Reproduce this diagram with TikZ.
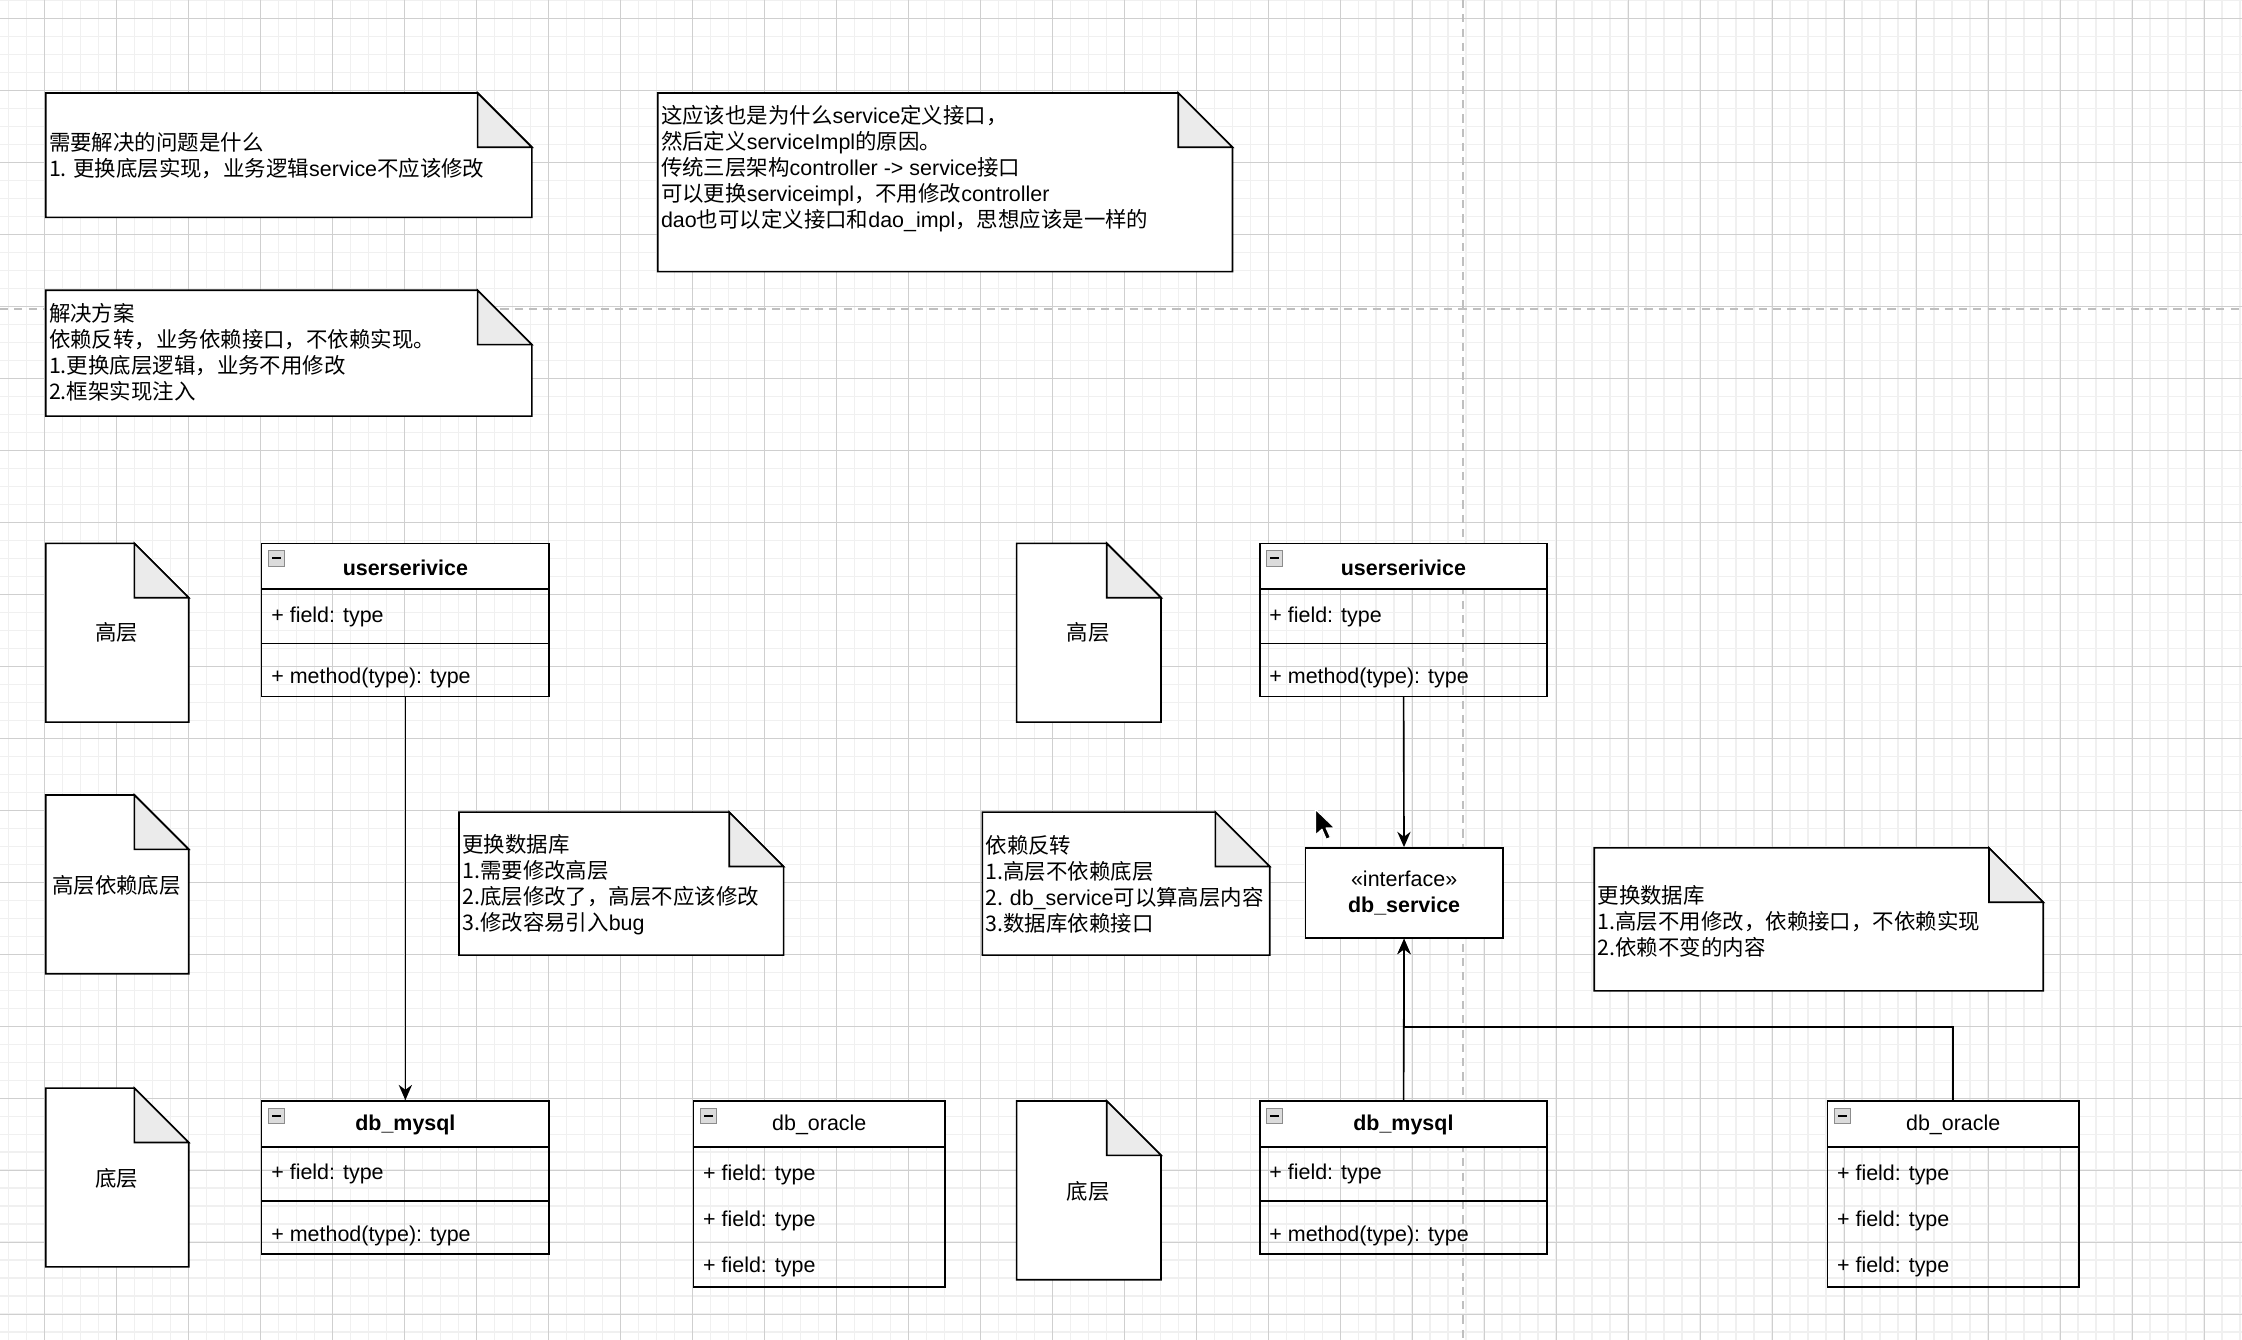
\documentclass[tikz,border=0pt]{standalone}
\usepackage{fontspec}
\setmainfont{Liberation Sans}
\newfontfamily\cjk{Noto Sans CJK SC}
\usetikzlibrary{arrows.meta,positioning,fit,calc}

\newcommand{\en}[1]{{\rmfamily #1}}
% rectangle with a folded top-right corner (notes and documents)
\newcommand{\foldbox}[4]{%
  \filldraw[outline,fill=white] (#1,#2) -- (#3-38,#2) -- (#3,#2+38) -- (#3,#4) -- (#1,#4) -- cycle;
  \filldraw[outline,fill=black!8] (#3-38,#2) -- (#3-38,#2+38) -- (#3,#2+38) -- cycle;}
% collapse icon in a class header
\newcommand{\minusicon}[2]{%
  \filldraw[fill=black!14,draw=black!45,line width=0.5pt] (#1+5,#2+5) rectangle ++(11,11);
  \draw[line width=1.1pt] (#1+7.5,#2+10.5) -- ++(6,0);}
% class with one field and one method
\newcommand{\svcclass}[4]{%
  \fill[white] (#2,#3) rectangle ++(201,32);
  \node[umlbox,fit={(#2,#3)(#2+201,#3+107)}] (#1) {};
  \draw[outline] (#2,#3+32) -- ++(201,0);
  \draw[outline] (#2,#3+70) -- ++(201,0);
  \node[umlhead] (#1t) at (#2+100.5,#3+16) {#4};
  \node[umlrow] (#1f) at (#2+6.5,#3+49) {+ field: type};
  \node[umlrow] (#1m) at (#2+6.5,#3+92) {+ method(type): type};
  \minusicon{#2}{#3}}
% class with three fields
\newcommand{\oraclass}[3]{%
  \fill[white] (#2,#3) rectangle ++(176,32);
  \node[umlbox,fit={(#2,#3)(#2+176,#3+130)}] (#1) {};
  \draw[outline] (#2,#3+32) -- ++(176,0);
  \node[umlhead] (#1t) at (#2+88,#3+16) {db\_oracle};
  \node[umlrow] (#1a) at (#2+6.5,#3+49.5) {+ field: type};
  \node[umlrow] (#1b) at (#2+6.5,#3+82) {+ field: type};
  \node[umlrow] (#1c) at (#2+6.5,#3+114) {+ field: type};
  \minusicon{#2}{#3}}

\begin{document}
\begin{tikzpicture}[
  x=0.7pt, y=-0.7pt,
  >={Stealth[length=7.5pt,width=6.5pt]},
  gridminor/.style={black!6, line width=0.7pt},
  gridmajor/.style={black!19, line width=0.5pt},
  pagebreak/.style={black!25, line width=0.8pt, dash pattern=on 4pt off 3pt},
  outline/.style={draw=black, line width=0.8pt},
  umlbox/.style={outline, inner sep=0pt},
  umlhead/.style={inner sep=0pt, yshift=-0.7pt, font=\fontsize{10.5}{12.6}\selectfont},
  umlrow/.style={inner sep=0pt, anchor=west, yshift=-1.5pt, font=\fontsize{10.5}{12.6}\selectfont},
  notetext/.style={inner sep=0pt, anchor=west, align=left, yshift=-0.8pt, font=\cjk\fontsize{10.5}{12.7}\selectfont},
  doctext/.style={inner sep=0pt, yshift=-0.8pt, font=\cjk\fontsize{10.5}{12.6}\selectfont},
  iface/.style={outline, fill=white, minimum width=96.6pt, minimum height=44.1pt, align=center, inner sep=0pt, font=\fontsize{10.5}{13}\selectfont},
  conn/.style={->, line width=0.8pt}
]
\useasboundingbox (0,0) rectangle (1568,937);
\fill[white] (0,0) rectangle (1568,937);

% grid
\foreach \i in {-2,...,122} \draw[gridminor] ({31+12.5875*\i},0) -- ({31+12.5875*\i},937);
\foreach \j in {-1,...,73} \draw[gridminor] (0,{12.8+12.5875*\j}) -- (1568,{12.8+12.5875*\j});
\foreach \i in {0,...,30} \draw[gridmajor] ({31+50.35*\i},0) -- ({31+50.35*\i},937);
\foreach \j in {0,...,18} \draw[gridmajor] (0,{12.8+50.35*\j}) -- (1568,{12.8+50.35*\j});
\draw[pagebreak] (1023,0) -- (1023,937);
\draw[pagebreak] (0,216) -- (1568,216);

% notes
\foldbox{32}{65}{372}{152}
\node[notetext] (problem) at (34,108) {需要解决的问题是什么\\1. 更换底层实现，业务逻辑\en{service}不应该修改};
\foldbox{32}{203}{372}{291}
\node[notetext] (solution) at (34,245.5) {解决方案\\依赖反转，业务依赖接口，不依赖实现。\\1.更换底层逻辑，业务不用修改\\2.框架实现注入};
\foldbox{460}{65}{862}{190}
\node[notetext] (why) at (462,117) {这应该也是为什么\en{service}定义接口，\\然后定义\en{serviceImpl}的原因。\\传统三层架构\en{controller -> service}接口\\可以更换\en{serviceimpl}，不用修改\en{controller}\\\en{dao}也可以定义接口和\en{dao\_impl}，思想应该是一样的};
\foldbox{321}{568}{548}{668}
\node[notetext] (changeL) at (323,617.5) {更换数据库\\1.需要修改高层\\2.底层修改了，高层不应该修改\\3.修改容易引入\en{bug}};
\foldbox{687}{568}{888}{668}
\node[notetext] (inversion) at (689,617.5) {依赖反转\\1.高层不依赖底层\\2. \en{db\_service}可以算高层内容\\3.数据库依赖接口};
\foldbox{1115}{593}{1429}{693}
\node[notetext] (changeR) at (1117,643) {更换数据库\\1.高层不用修改，依赖接口，不依赖实现\\2.依赖不变的内容};

% layer documents
\foldbox{32}{380}{132}{505}
\node[doctext] (highL) at (81.5,441) {高层};
\foldbox{32}{556}{132}{681}
\node[doctext] (dependL) at (81.5,618) {高层依赖底层};
\foldbox{32}{761}{132}{886}
\node[doctext] (lowL) at (81.5,823) {底层};
\foldbox{711}{380}{812}{505}
\node[doctext] (highR) at (761,441) {高层};
\foldbox{711}{770}{812}{895}
\node[doctext] (lowR) at (761,832) {底层};

% classes
\svcclass{usrL}{183}{380}{\bfseries userserivice}
\svcclass{myL}{183}{770}{\bfseries db\_mysql}
\oraclass{oraL}{485}{770}
\svcclass{usrR}{881}{380}{\bfseries userserivice}
\svcclass{myR}{881}{770}{\bfseries db\_mysql}
\oraclass{oraR}{1278}{770}
\node[iface] (dbsvc) at (982,624.5) {«interface»\\\textbf{db\_service}};

% dependencies
\draw[conn] (usrL) -- (myL);
\draw[conn] (usrR) -- (dbsvc);
\draw[conn] (myR) -- (dbsvc);
\draw[conn] (oraR.north) -- ++(0,-51) -| (dbsvc.south);

% mouse pointer
\filldraw[fill=black,draw=white,line width=0.6pt,line join=round] (920,566) -- ++(0,18) -- ++(4.5,-4) -- ++(3,7) -- ++(3,-1.3) -- ++(-3,-6.7) -- ++(6,0) -- cycle;
\end{tikzpicture}
\end{document}
